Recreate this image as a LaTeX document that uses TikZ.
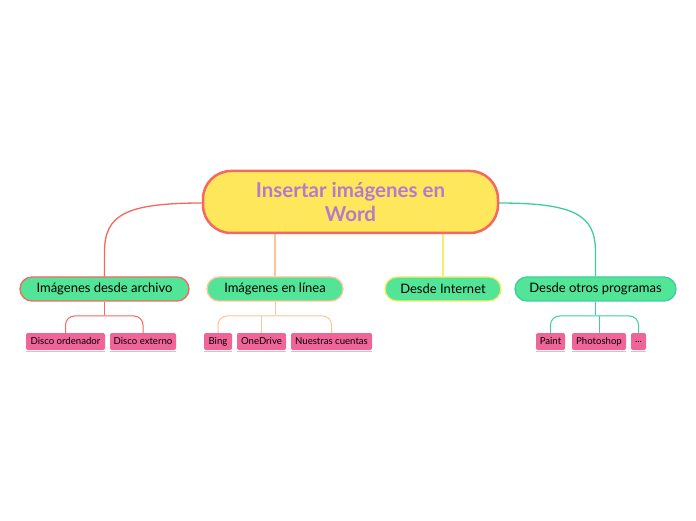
\documentclass[tikz,border=0pt]{standalone}
\usepackage{fontspec}
\setmainfont{Lato}
\newcommand\mythreedots{...}
\definecolor{cborder}{HTML}{F5675F}
\definecolor{cfill}{HTML}{FFE75C}
\definecolor{ctext}{HTML}{B57ACB}
\definecolor{gfill}{HTML}{52E597}
\definecolor{pfill}{HTML}{F06597}
\definecolor{lred}{HTML}{F5675F}
\definecolor{lorange}{HTML}{FFC39A}
\definecolor{lyellow}{HTML}{FCE96C}
\definecolor{lteal}{HTML}{3DCF9F}
\definecolor{shadowc}{HTML}{C8C8C8}
\tikzset{
  central/.style={draw=cborder, line width=2.5pt, fill=cfill, rounded corners=28pt,
    minimum width=295pt, minimum height=62pt, inner sep=0pt, align=center,
    text=ctext, font=\fontsize{20.5}{24}\selectfont\bfseries},
  topic/.style={draw=#1, line width=1.3pt, fill=gfill, rounded corners=12pt,
    minimum height=24pt, inner sep=0pt, text=black, font=\fontsize{13}{14}\selectfont},
  sub/.style={fill=pfill, rounded corners=2pt, minimum height=17pt, inner sep=0pt,
    text=black, font=\fontsize{9.6}{10}\selectfont},
  conn/.style={line width=1.3pt, #1},
  subconn/.style={line width=1pt, #1, rounded corners=9pt},
}
\begin{document}
\begin{tikzpicture}[x=1pt,y=1pt]
\useasboundingbox (0,0) rectangle (696,520);
\fill[white] (0,0) rectangle (696,520);

\coordinate (cl) at (203,317);
\coordinate (cr) at (498,317);
\coordinate (bl) at (104.5,268);
\coordinate (br) at (595.5,268);
\node[topic=lred, minimum width=169pt] (a) at (104.5,231) {Imágenes desde archivo};
\node[topic=lorange, minimum width=136pt] (b) at (275,231) {Imágenes en línea};
\node[topic=lyellow, minimum width=116pt] (c) at (443,231) {Desde Internet};
\node[topic=lteal, minimum width=161pt] (d) at (595.5,231) {Desde otros programas};

\draw[conn=lred] (cl) .. controls (125,317) and (104.5,305) .. (bl) -- (a.north);
\draw[conn=lteal] (cr) .. controls (575,317) and (595.5,305) .. (br) -- (d.north);
\draw[conn=lorange] (b.north) -- (275,290);
\draw[conn=lyellow] (c.north) -- (443,290);

\node[central] (main) at (350.5,318) {Insertar imágenes en\\Word};

\foreach \n/\x/\w/\t in {s1/65.5/79/Disco ordenador, s2/143/66/Disco externo,
  s3/218/28/Bing, s4/261.5/49/OneDrive, s5/331.5/81/Nuestras cuentas,
  s6/550.5/29/Paint, s7/599/54/Photoshop, s8/638.5/15/\mythreedots}{
  \draw[shadowc, line width=1pt] (\x-\w/2,168.5) -- (\x+\w/2,168.5);
  \node[sub, minimum width=\w pt] (\n) at (\x,178.5) {\t};
}

% sub connectors: trunk, bar with rounded ends, middle drops
\foreach \p/\l/\r/\col in {a/s1/s2/lred, b/s3/s5/lorange, d/s6/s8/lteal}{
  \draw[subconn=\col] (\p.south) -- (\p.south |- 0,205);
  \draw[subconn=\col] (\l.north) |- (\r.north |- 0,204) -- (\r.north);
}
\draw[subconn=lorange] (s4.north) -- (s4.north |- 0,204);
\draw[subconn=lteal] (s7.north) -- (s7.north |- 0,204);
\end{tikzpicture}
\end{document}
